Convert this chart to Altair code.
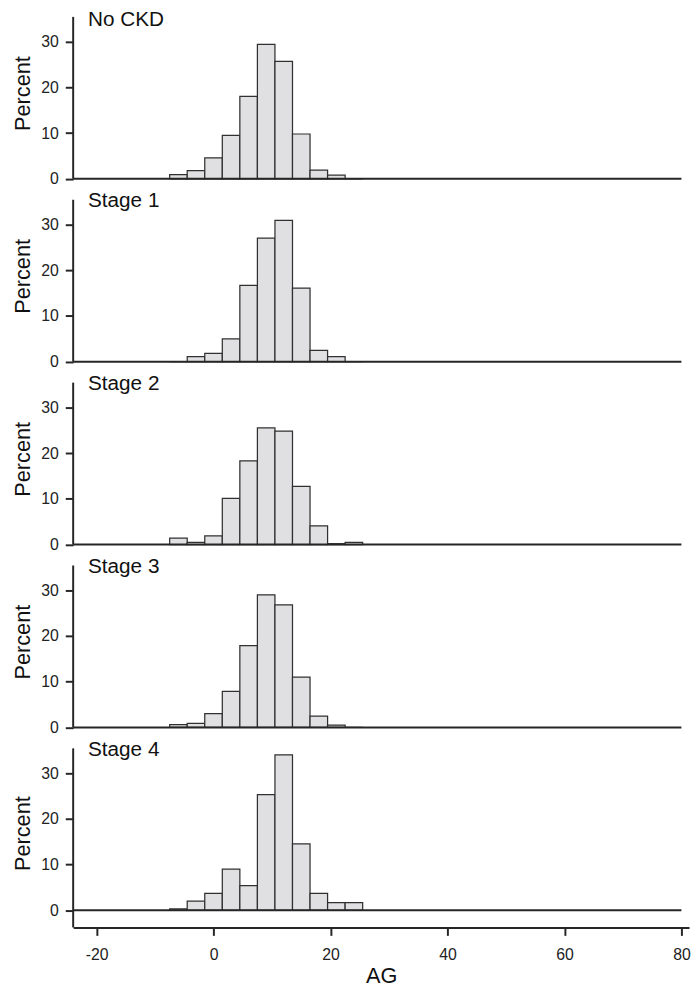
import altair as alt
import pandas as pd

panel_titles = ["No CKD", "Stage 1", "Stage 2", "Stage 3", "Stage 4"]
bin_centers = [-6, -3, 0, 3, 6, 9, 12, 15, 18, 21, 24]
bin_width = 3
no_ckd = [0.9, 1.8, 4.6, 9.5, 18.0, 29.4, 25.7, 9.8, 1.9, 0.8, 0.0]
stage1 = [0.0, 1.1, 1.8, 5.0, 16.7, 27.0, 30.9, 16.1, 2.5, 1.1, 0.0]
stage2 = [1.4, 0.5, 1.9, 10.1, 18.3, 25.5, 24.8, 12.7, 4.1, 0.2, 0.5]
stage3 = [0.6, 0.9, 3.0, 7.9, 17.9, 29.0, 26.8, 11.0, 2.5, 0.5, 0.0]
stage4 = [0.3, 2.0, 3.7, 9.0, 5.4, 25.3, 34.0, 14.5, 3.7, 1.7, 1.7]
series = [no_ckd, stage1, stage2, stage3, stage4]

x_ticks = [-20, 0, 20, 40, 60, 80]
y_ticks = [0, 10, 20, 30]
x_min, x_max = -24, 81.3
y_axis_top = 35.4        # where the drawn y axis line stops
y_plot_top = 37.5        # extra room above it for the panel label
y_min_last = -3.75       # bottom panel reaches down to the x axis

FONT = "Liberation Sans"
INK = "#262626"
W = 623.7
PX_PER_UNIT = 4.633

panels = []
for i, (title, vals) in enumerate(zip(panel_titles, series)):
    last = i == len(series) - 1
    y_lo = y_min_last if last else 0
    h = (y_plot_top - y_lo) * PX_PER_UNIT
    df = pd.DataFrame({
        "x": [c - bin_width / 2 for c in bin_centers],
        "x2": [c + bin_width / 2 for c in bin_centers],
        "y": vals,
        "y2": [0] * len(vals),
    })
    xaxis = alt.Axis(values=x_ticks, title="AG", labelExpr="datum.value + ''",
                     grid=False) if last else None
    x_scale = alt.Scale(domain=[x_min, x_max], nice=False, zero=False)
    y_scale = alt.Scale(domain=[y_lo, y_plot_top], nice=False, zero=False)
    x_enc = alt.X("x:Q", scale=x_scale, axis=xaxis)
    y_enc = alt.Y("y:Q", scale=y_scale,
                  axis=alt.Axis(values=y_ticks, title="Percent", grid=False, domain=False))

    bars = alt.Chart(df).mark_bar(fill="#e0e0e3", stroke="#303030", strokeWidth=1.25).encode(
        x=x_enc, x2="x2:Q", y=y_enc, y2="y2:Q"
    )
    zero_df = pd.DataFrame({"x": [x_min], "x2": [x_ticks[-1]], "y": [0], "y2": [0]})
    zero_line = alt.Chart(zero_df).mark_rule(color=INK, strokeWidth=2).encode(
        x=x_enc, x2="x2:Q", y=y_enc
    )
    yline_df = pd.DataFrame({"x": [x_min], "y": [y_lo], "y2": [y_axis_top]})
    y_line = alt.Chart(yline_df).mark_rule(color=INK, strokeWidth=2).encode(
        x=x_enc, y=y_enc, y2="y2:Q"
    )
    label = alt.Chart(pd.DataFrame({"t": [title]})).mark_text(
        align="left", baseline="top", fontSize=21, font=FONT, color="#111111"
    ).encode(text="t:N", x=alt.value(15), y=alt.value(2 if i == 0 else 0))
    panels.append(alt.layer(bars, zero_line, y_line, label).properties(width=W, height=h))

chart = alt.vconcat(*panels, spacing=11.2, bounds="flush").properties(
    padding={"left": 4, "top": -7, "right": 0, "bottom": 0}
).configure_view(stroke=None).configure_axis(
    domainColor=INK, domainWidth=2, tickColor=INK, tickWidth=2, tickSize=8,
    labelFont=FONT, labelFontSize=16, labelColor="#222222",
    titleFont=FONT, titleFontSize=22, titleFontWeight="normal", titleColor="#111111",
).configure_axisY(labelPadding=7, titlePadding=6).configure_axisX(
    labelPadding=11, titlePadding=4
)

chart.save("out.html", embed_options={"renderer": "svg", "actions": False})
